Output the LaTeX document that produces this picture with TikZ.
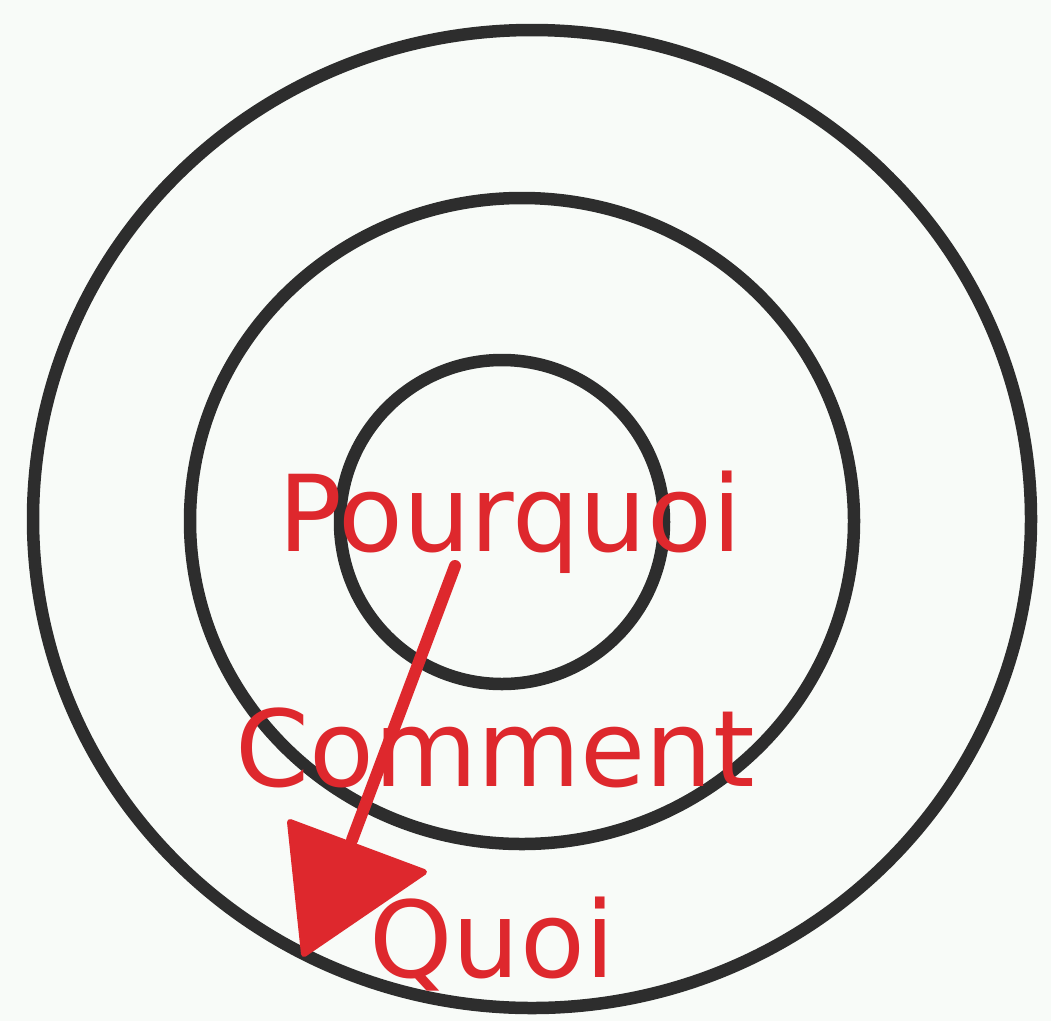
\documentclass[tikz,border=0pt]{standalone}
\usepackage{fontspec}
\setmainfont{DejaVu Sans}
\definecolor{ink}{RGB}{45,45,45}
\definecolor{redink}{RGB}{222,40,45}
\definecolor{paper}{RGB}{248,251,248}
\begin{document}
\begin{tikzpicture}[x=1pt,y=-1pt,
  ring/.style={draw=ink,line width=12.5pt},
  word/.style={text=redink,font=\fontsize{106}{108}\selectfont,inner sep=0pt,anchor=center}]
\useasboundingbox (0,0) rectangle (1051,1021);
\fill[paper] (0,0) rectangle (1051,1021);
\draw[ring] (532,519) ellipse [x radius=499, y radius=489];
\draw[ring] (522,521) ellipse [x radius=332, y radius=323];
\draw[ring] (502,522) ellipse [x radius=162, y radius=162];
\node[word] (why) at (510,522) {Pourquoi};
\node[word] (how) at (495,748) {Comment};
\node[word] (what) at (492,944) {Quoi};
\coordinate (start) at (455,566);
\coordinate (tipbase) at (352,840);
\draw[redink,line width=12pt,line cap=round] (start) -- (tipbase);
\fill[redink,draw=redink,line width=6pt,line join=round] (290,822) -- (424,872) -- (304,954) -- cycle;
\end{tikzpicture}
\end{document}
